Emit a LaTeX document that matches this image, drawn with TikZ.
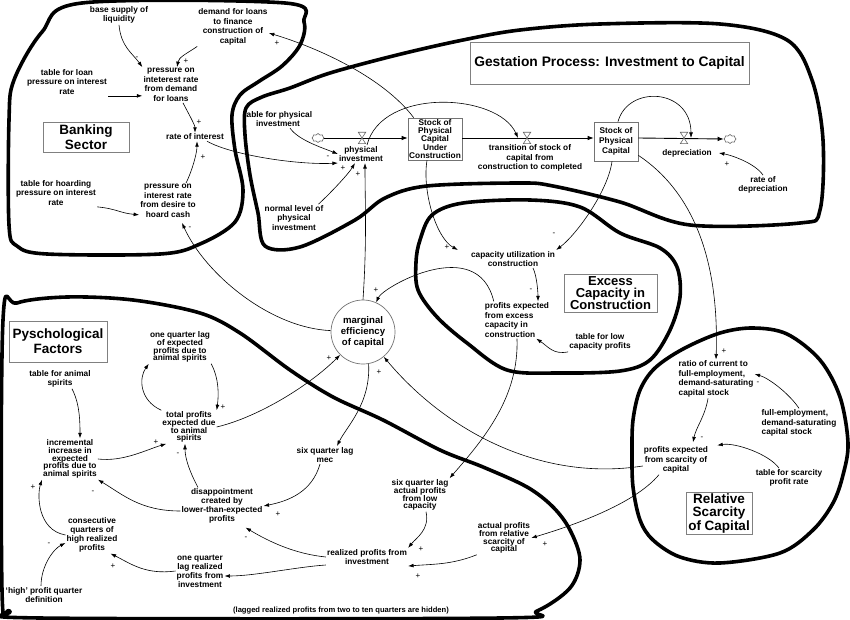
\documentclass[tikz,border=0pt]{standalone}
\usepackage{fontspec}
\setmainfont{Liberation Sans}
\usetikzlibrary{arrows.meta}
\usetikzlibrary{shapes.symbols}
\newcommand{\tightlead}{\lineskiplimit=-10pt\relax}

\begin{document}
\begin{tikzpicture}[
        x=1pt, y=-1pt,
        var/.style={align=center, inner sep=1pt,
                    font=\fontsize{8.3}{9.6}\selectfont\bfseries},
        varmid/.style={var, font=\fontsize{8.3}{9}\selectfont\tightlead\bfseries},
        vartight/.style={var, font=\fontsize{8.3}{7.8}\selectfont\tightlead\bfseries},
        stock/.style={draw=black!55, rectangle, align=center, inner sep=1pt, line width=0.7pt,
                      font=\fontsize{8.3}{8.1}\selectfont\tightlead\bfseries},
        sector/.style={draw=black!50, rectangle, align=center, fill=white, line width=0.8pt,
                       inner sep=1pt, font=\fontsize{13.5}{15}\selectfont\bfseries},
        aux/.style={draw=black!55, circle, align=center, minimum size=64pt, inner sep=0pt,
                    line width=0.7pt, font=\fontsize{9.6}{11}\selectfont\bfseries},
        valve/.style={minimum width=7pt, minimum height=11pt, inner sep=0pt},
        valveline/.style={draw=black!60, line width=0.6pt, fill=white},
        source/.style={draw=black!60, cloud, cloud puffs=8, aspect=1.3, minimum width=12pt,
                       minimum height=9pt, inner sep=0pt, fill=white, line width=0.6pt},
        arrow/.style={-{Latex[length=5.5pt,width=3.8pt]}, line width=0.6pt},
        flow/.style={-{Latex[length=6pt,width=4.6pt]}, line width=0.9pt},
        sgn/.style={inner sep=0pt, text=black, font=\fontsize{8}{8}\selectfont},
        region/.style={line width=3.6pt, line join=round}
    ]
        \useasboundingbox (0,0) rectangle (850,620);
        \fill[white] (0,0) rectangle (850,620);

        \draw[region] plot[smooth cycle, tension=0.55] coordinates {(82,3) (285,3) (304,22) (300,45) (282,66) (258,82) (240,95) (232,115) (235,150) (243,190) (235,222) (200,244) (160,254) (47,254) (17,246) (9,225) (9,120) (14,80) (42,32)};
        \draw[region] plot[smooth cycle, tension=0.55] coordinates {(330,73) (397,55) (463,40) (520,30) (600,24) (720,24) (787,40) (812,80) (823,140) (820,210) (800,223) (690,225) (620,202) (553,186) (520,183) (427,186) (385,198) (355,220) (300,247) (265,246) (258,213) (250,175) (245,135) (246,108) (262,97) (290,88)};
        \draw[region] plot[smooth cycle, tension=0.55] coordinates {(420,240) (432,215) (463,203) (530,200) (580,207) (620,233) (660,248) (677,267) (680,297) (670,330) (650,360) (620,371) (560,373) (507,370) (467,343) (437,317) (418,290) (416,262)};
        \draw[region] plot[smooth cycle, tension=0.55] coordinates {(633,420) (640,390) (655,368) (683,349) (720,333) (753,328) (787,334) (820,360) (840,397) (848,443) (843,475) (833,503) (813,530) (780,553) (720,563) (680,557) (653,540) (640,520) (633,487) (632,453)};
        \draw[region] plot[smooth cycle, tension=0.55] coordinates {(3,320) (17,303) (67,297) (133,300) (200,313) (240,333) (290,370) (333,397) (383,420) (440,450) (483,467) (527,487) (553,507) (570,530) (580,560) (570,588) (537,611) (500,618) (40,618) (10,611) (2,590)};

        \node[var] (liq) at (119,15) {base supply of\\liquidity};
        \node[var] (loandem) at (233,27) {demand for loans\\to finance\\construction of\\capital};
        \node[var] (tabloan) at (67,82) {table for loan\\pressure on interest\\rate};
        \node[var] (pdem) at (171,85) {pressure on\\inteterest rate\\from demand\\for loans};
        \node[sector, minimum width=86pt, minimum height=30pt] (banktitle) at (86,137) {Banking\\Sector};
        \node[var] (interest) at (195,137) {rate of interest};
        \node[var] (tabhoard) at (56,193) {table for hoarding\\pressure on interest\\rate};
        \node[var] (phoard) at (168,201) {pressure on\\interest rate\\from desire to\\hoard cash};

        \node[sector, minimum width=279pt, minimum height=42pt, font=\fontsize{13.8}{15}\selectfont\bfseries] (gesttitle) at (609.5,63) {Gestation Process: Investment to Capital};
        \node[var] (tabphys) at (278,119) {table for physical\\investment};
        \node[source] (srcl) at (318,138) {};
        \node[valve] (vinv) at (362,138) {};
        \node[var] (physinv) at (361,154) {physical\\investment};
        \node[var] (normal) at (294,218) {normal level of\\physical\\investment};
        \node[stock, minimum width=54pt, minimum height=42pt] (suc) at (435,139) {Stock of\\Physical\\Capital\\Under\\Construction};
        \node[valve] (vtrans) at (527,138) {};
        \node[var] (trans) at (530,158) {transition of stock of\\capital from\\construction to completed};
        \node[stock, minimum width=44pt, minimum height=39pt, font=\fontsize{8.3}{10.3}\selectfont\bfseries] (spc) at (616,141.5) {Stock of\\Physical\\Capital};
        \node[valve] (vdep) at (684,138) {};
        \node[source] (srcr) at (730,139) {};
        \node[var] (depr) at (687,153) {depreciation};
        \node[var] (ratedepr) at (763,185) {rate of\\depreciation};

        \node[var] (caputil) at (513,259) {capacity utilization in\\construction};
        \node[var, align=left] (pexcess) at (517,320) {profits expected\\from excess\\capacity in\\construction};
        \node[sector, minimum width=93pt, minimum height=38pt, font=\fontsize{13}{12.4}\selectfont\bfseries] (exctitle) at (610.5,293) {Excess\\Capacity in\\Construction};
        \node[var] (tablow) at (600,342) {table for low\\capacity profits};

        \node[aux] (mec) at (363,332) {marginal\\efficiency\\of capital};

        \node[sector, minimum width=98pt, minimum height=41pt] (psytitle) at (58,341.5) {Pyschological\\Factors};
        \node[var] (tabanimal) at (60,379) {table for animal\\spirits};
        \node[vartight] (lagexp) at (180,347) {one quarter lag\\of expected\\profits due to\\animal spirits};
        \node[vartight] (totexp) at (189,427) {total profits\\expected due\\to animal\\spirits};
        \node[vartight] (incr) at (70,459) {incremental\\increase in\\expected\\profits due to\\animal spirits};
        \node[var] (sixmec) at (325,455) {six quarter lag\\mec};
        \node[varmid] (disapp) at (222,506) {disappointment\\created by\\lower-than-expected\\profits};
        \node[varmid] (consec) at (92,535) {consecutive\\quarters of\\high realized\\profits};
        \node[var] (highdef) at (44,595) {`high' profit quarter\\definition};
        \node[varmid] (lagreal) at (200,571) {one quarter\\lag realized\\profits from\\investment};
        \node[var] (realized) at (367,557) {realized profits from\\investment};
        \node[vartight] (sixlow) at (420,495) {six quarter lag\\actual profits\\from low\\capacity};
        \node[vartight] (actscar) at (504,538) {actual profits\\from relative\\scarcity of\\capital};
        \node[var, font=\fontsize{7.6}{9}\selectfont\bfseries] (hidden) at (341,611) {(lagged realized profits from two to ten quarters are hidden)};

        \node[var, align=left] (ratio) at (716,379) {ratio of current to\\full-employment,\\demand-saturating\\capital stock};
        \node[var, align=left] (fullemp) at (799,423) {full-employment,\\demand-saturating\\capital stock};
        \node[var] (pscar) at (676,460) {profits expected\\from scarcity of\\capital};
        \node[var] (tabscar) at (789,478) {table for scarcity\\profit rate};
        \node[sector, minimum width=66pt, minimum height=41pt, font=\fontsize{13.5}{13.7}\selectfont\bfseries] (scartitle) at (719,513.5) {Relative\\Scarcity\\of Capital};

        \draw[flow] (srcl.east) -- (srcl.east -| suc.west);
        \draw[flow] (suc.east |- vtrans) -- (spc.west |- vtrans);
        \draw[flow] (spc.east |- vdep) -- (srcr.west);
        \foreach \v in {vinv,vtrans,vdep}
            \draw[valveline] (\v.north west) -- (\v.south east) -- (\v.south west) -- (\v.north east) -- cycle;

        \draw[arrow] (liq.south) .. controls +(2,22) and +(-10,-14) .. (pdem.north west) node[sgn] at (137,58) {-};
        \draw[arrow] (loandem.south west) .. controls +(-12,8) and +(2,-10) .. ([xshift=6pt]pdem.north) node[sgn] at (186,61) {+};
        \draw[arrow] (tabloan.south east) -- (tabloan.south east -| pdem.west);
        \draw[arrow] ([xshift=12pt]pdem.south) .. controls +(4,8) and +(0,-8) .. (interest.north) node[sgn] at (199,122) {+};
        \draw[arrow] ([xshift=18pt]phoard.north) .. controls +(6,-12) and +(0,12) .. ([xshift=2pt]interest.south) node[sgn] at (203,157) {+};
        \draw[arrow] (tabhoard.south east) .. controls +(20,2) and +(-20,-2) .. ([yshift=4pt]phoard.south west);
        \draw[arrow] (mec) .. controls +(-93,-4) and +(23,51) .. ([xshift=14pt,yshift=-4pt]phoard.south) node[sgn] at (190,228) {-};
        \draw[arrow] ([xshift=-18pt]interest.south east) .. controls +(25,14) and +(-40,2) .. (physinv.south west) node[sgn] at (328,157) {-};
        \draw[arrow] ([xshift=12pt]tabphys.south) .. controls +(8,12) and +(-15,-6) .. (physinv.west);
        \draw[arrow] ([xshift=-6pt]normal.north east) .. controls +(15,-14) and +(-6,10) .. ([xshift=-6pt]physinv.south) node[sgn] at (343,168) {+};
        \draw[arrow] (mec.north) .. controls +(4,-60) and +(0,40) .. ([xshift=4pt]physinv.south) node[sgn] at (358,174) {+};
        \draw[arrow] ([xshift=6pt]physinv.north) .. controls +(15,-58) and +(-20,-45) .. ([xshift=-9pt]vtrans.center);
        \draw[arrow] ([xshift=2pt]spc.north) .. controls +(10,-37) and +(0,-50) .. ([xshift=7pt]vdep.center);
        \draw[arrow] (ratedepr.north) .. controls +(-8,-12) and +(12,2) .. ([xshift=6pt]depr.east) node[sgn] at (727,164) {+};
        \draw[arrow] ([xshift=6pt]suc.north west) .. controls +(-30,-40) and +(50,15) .. ([yshift=-6pt]loandem.east) node[sgn] at (277,43) {+};
        \draw[arrow] ([xshift=-8pt]suc.south) .. controls +(-5,30) and +(-22,-12) .. ([xshift=-12pt]caputil.north west) node[sgn] at (447,247) {+};
        \draw[arrow] ([xshift=-4pt]spc.south) .. controls +(-4,30) and +(20,-15) .. (caputil.north east) node[sgn] at (554,234) {-};
        \draw[arrow] ([yshift=6pt]spc.south east) .. controls +(60,40) and +(3,-90) .. (ratio.north) node[sgn] at (724,351) {+};

        \draw[arrow] ([xshift=20pt]caputil.south) .. controls +(4,8) and +(0,-8) .. ([xshift=21pt]pexcess.north) node[sgn] at (531,290) {-};
        \draw[arrow] ([xshift=10pt]pexcess.north west) .. controls +(-16,-68) and +(20,-45) .. (mec) node[sgn] at (376,290) {+};
        \draw[arrow] (tablow.south west) .. controls +(-15,3) and +(12,8) .. ([xshift=-14pt]pexcess.south east);
        \draw[arrow] (pexcess.south) .. controls +(2,58) and +(35,-40) .. (sixlow.north east);

        \draw[arrow] ([xshift=6pt]sixlow.south) .. controls +(4,18) and +(8,-10) .. (realized.north east) node[sgn] at (421,549) {+};
        \draw[arrow] (actscar.south west) .. controls +(-25,10) and +(25,-2) .. (realized.south east) node[sgn] at (418,576) {+};
        \draw[arrow] ([xshift=-17pt]pscar.south) .. controls +(-25,30) and +(40,-12) .. (actscar.east) node[sgn] at (545,544) {+};
        \draw[arrow] ([yshift=-6pt]pscar.west) .. controls +(-103,16) and +(82,98) .. (mec) node[sgn] at (379,372) {+};
        \draw[arrow] ([xshift=-10pt]tabscar.north) .. controls +(-10,-14) and +(18,-3) .. ([xshift=8pt]pscar.north east);
        \draw[arrow] ([xshift=-8pt]ratio.south) .. controls +(-3,18) and +(3,-15) .. ([xshift=17pt,yshift=3pt]pscar.north) node[sgn] at (702,438) {-};
        \draw[arrow] (fullemp.north) .. controls +(-10,-15) and +(14,4) .. ([yshift=5pt]ratio.east) node[sgn] at (758,383) {-};

        \draw[arrow] (mec.-80) .. controls +(2,40) and +(10,-20) .. ([xshift=12pt]sixmec.north);
        \draw[arrow] ([xshift=-5pt]sixmec.south) .. controls +(-8,28) and +(25,-5) .. (disapp.east) node[sgn] at (278,514) {+};
        \draw[arrow] (realized.west) .. controls +(-30,-3) and +(25,15) .. ([xshift=-18pt,yshift=-3pt]disapp.south east) node[sgn] at (246,538) {-};
        \draw[arrow] ([yshift=-8pt]realized.west) .. controls +(-30,2) and +(30,0) .. ([yshift=-5pt]lagreal.east);
        \draw[arrow] (lagreal.west) .. controls +(-30,4) and +(20,10) .. ([xshift=-8pt]consec.south east) node[sgn] at (113,566) {+};
        \draw[arrow] ([xshift=-3pt]highdef.north) .. controls +(0,-20) and +(-12,6) .. ([yshift=-8pt]consec.west) node[sgn] at (49,544) {-};
        \draw[arrow] (consec.west) .. controls +(-28,-5) and +(-5,15) .. (incr.south west) node[sgn] at (33,487) {+};
        \draw[arrow] ([xshift=12pt]tabanimal.south) .. controls +(8,15) and +(0,-15) .. ([xshift=10pt]incr.north);
        \draw[arrow] (incr.east) .. controls +(25,3) and +(-20,6) .. ([xshift=5pt]totexp.south west) node[sgn] at (156,442) {+};
        \draw[arrow] ([xshift=-24pt]disapp.north) .. controls +(-8,-15) and +(0,15) .. ([xshift=-4pt]totexp.south) node[sgn] at (178,454) {-};
        \draw[arrow] ([yshift=-5pt]disapp.west) .. controls +(-40,0) and +(25,15) .. (incr.south east) node[sgn] at (93,492) {-};
        \draw[arrow] (totexp.east) .. controls +(42,-10) and +(-53,53) .. (mec) node[sgn] at (329,358) {+};
        \draw[arrow] (totexp.north west) .. controls +(-22,-10) and +(-10,14) .. (lagexp.south west);
        \draw[arrow] (lagexp.south east) .. controls +(8,15) and +(2,-15) .. (totexp.north east) node[sgn] at (223,407) {+};
\end{tikzpicture}
\end{document}
